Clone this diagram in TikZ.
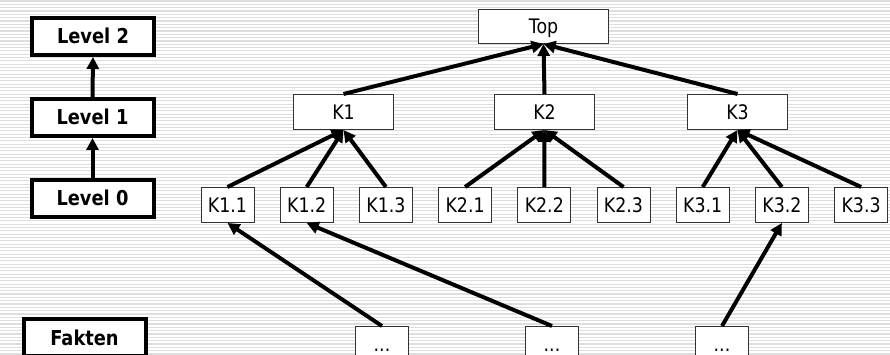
\documentclass[tikz,border=0pt]{standalone}
\usepackage{fontspec}
\setmainfont{DejaVu Sans}[FakeStretch=0.87]
\usetikzlibrary{arrows.meta}
\begin{document}
\begin{tikzpicture}[x=1pt,y=-1pt,
  stripe/.style={draw=black!13, line width=1.1pt},
  levelbox/.style={draw=black, line width=4pt, fill=white,
    minimum width=122pt, minimum height=37pt, inner sep=0pt,
    text height=15pt, text depth=0pt,
    font=\fontsize{20.5}{24}\selectfont\bfseries},
  kbox/.style={draw=black!80, line width=1pt, fill=white,
    minimum height=35pt, inner sep=0pt,
    text height=14.5pt, text depth=0pt,
    font=\fontsize{20}{24}\selectfont},
  leafbox/.style={kbox, minimum width=53pt},
  midbox/.style={kbox, minimum width=100pt},
  link/.style={line width=4pt, -{Triangle[length=12pt,width=12pt]}},
]
\useasboundingbox (0,0) rectangle (890,355);
\clip (0,0) rectangle (890,355);

% ruled background
\fill[white] (0,0) rectangle (890,355);
\foreach \i in {0,...,107}
  \draw[stripe] (0,{\i*3.33+1}) -- (890,{\i*3.33+1});

% level legend
\node[levelbox] (l2) at (93,36.5) {Level 2};
\node[levelbox] (l1) at (92.5,117.5) {Level 1};
\node[levelbox] (l0) at (92.5,198.5) {Level 0};
\node[levelbox] (fakt) at (84.5,337.5) {Fakten};
\draw[link] (l0.north) -- (l1.south);
\draw[link] (l1.north) -- (l2.south);

% hierarchy
\node[kbox, minimum width=130pt, minimum height=34pt] (top) at (543.5,26.5) {Top};
\node[midbox] (k1) at (343.5,112) {K1};
\node[midbox] (k2) at (544.5,112) {K2};
\node[midbox] (k3) at (737.5,112) {K3};

\node[leafbox] (k11) at (227.5,205) {K1.1};
\node[leafbox] (k12) at (306.7,205) {K1.2};
\node[leafbox] (k13) at (385.9,205) {K1.3};
\node[leafbox] (k21) at (465.1,205) {K2.1};
\node[leafbox] (k22) at (544.3,205) {K2.2};
\node[leafbox] (k23) at (623.5,205) {K2.3};
\node[leafbox] (k31) at (702.7,205) {K3.1};
\node[leafbox] (k32) at (781.9,205) {K3.2};
\node[leafbox] (k33) at (861.1,205) {K3.3};

\node[leafbox] (d1) at (382,344) {...};
\node[leafbox] (d2) at (552,344) {...};
\node[leafbox] (d3) at (722,344) {...};

\foreach \k in {k1,k2,k3}
  \draw[link] (\k.north) -- (top.south);
\foreach \k in {k11,k12,k13}
  \draw[link] (\k.north) -- (k1.south);
\foreach \k in {k21,k22,k23}
  \draw[link] (\k.north) -- (k2.south);
\foreach \k in {k31,k32,k33}
  \draw[link] (\k.north) -- (k3.south);

\draw[link] (d1.north) -- (k11.south);
\draw[link] (d2.north) -- (k12.south);
\draw[link] (d3.north) -- (k32.south);
\end{tikzpicture}
\end{document}
